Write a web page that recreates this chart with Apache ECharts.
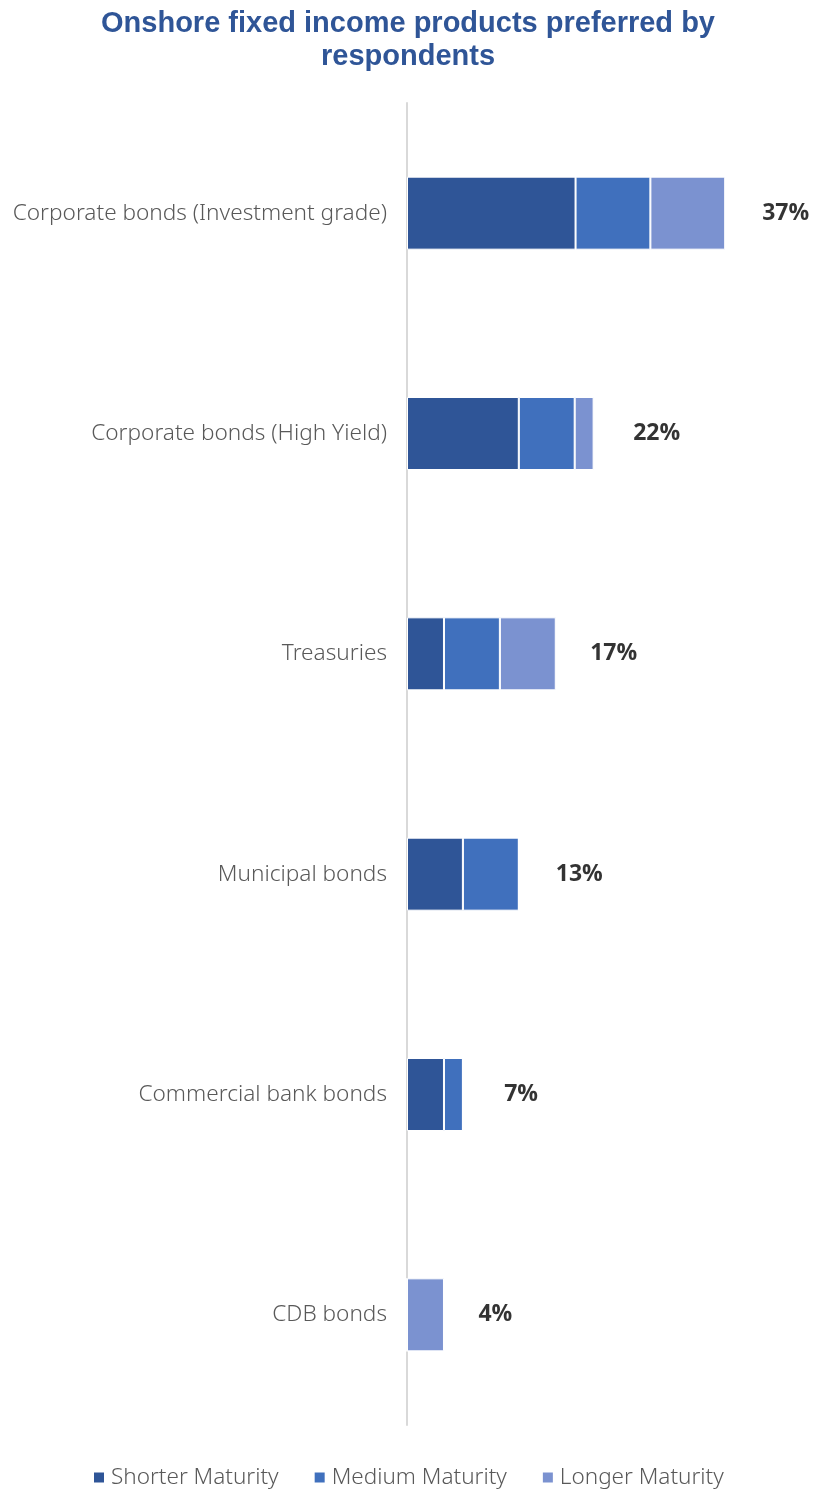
<!DOCTYPE html>
<html>
<head>
<meta charset="utf-8">
<title>Onshore fixed income products preferred by respondents</title>
<script src="https://cdn.jsdelivr.net/npm/echarts@6/dist/echarts.min.js"></script>
<style>
  html, body { margin: 0; padding: 0; background: #ffffff; }
  #chart { width: 821px; height: 1490px; }
</style>
</head>
<body>
<div id="chart"></div>
<script>
// Product categories, top to bottom
const categories = [
  'Corporate bonds (Investment grade)',
  'Corporate bonds (High Yield)',
  'Treasuries',
  'Municipal bonds',
  'Commercial bank bonds',
  'CDB bonds'
];

// Share of respondents (%) by preferred maturity
const shorterMaturity = [19.6, 13.0, 4.3, 6.5, 4.3, 0];
const mediumMaturity  = [8.7, 6.5, 6.5, 6.5, 2.2, 0];
const longerMaturity  = [8.7, 2.2, 6.5, 0, 0, 4.3];

// Total share per product (%), shown at the end of each bar
const totals = [37, 22, 17, 13, 7, 4];

const seriesNames = ['Shorter Maturity', 'Medium Maturity', 'Longer Maturity'];
const colors = ['#2F5597', '#4070BD', '#7B92D0'];

const chart = echarts.init(document.getElementById('chart'));

function stackSeries(name, data, color) {
  return {
    name: name,
    type: 'bar',
    stack: 'total',
    barWidth: 73,
    data: data,
    itemStyle: { color: color, borderColor: '#ffffff', borderWidth: 1 },
    emphasis: { disabled: true }
  };
}

chart.setOption({
  animation: false,
  backgroundColor: '#ffffff',
  color: colors,
  title: {
    text: 'Onshore fixed income products preferred by\nrespondents',
    left: 403,
    textAlign: 'center',
    top: 2,
    textStyle: {
      color: '#2F5597',
      fontFamily: 'Liberation Sans, Arial, sans-serif',
      fontWeight: 'bold',
      fontSize: 29,
      lineHeight: 33
    }
  },
  legend: {
    data: seriesNames,
    top: 1461,
    left: 87,
    icon: 'rect',
    itemWidth: 12,
    itemHeight: 12,
    itemGap: 34,
    textStyle: {
      color: '#595959',
      fontFamily: 'Noto Sans, sans-serif',
      fontWeight: 300,
      fontSize: 22.5,
      padding: [0, 0, 0, 1]
    }
  },
  grid: {
    left: 407,
    right: 70,
    top: 103,
    bottom: 65
  },
  xAxis: {
    type: 'value',
    min: 0,
    max: 40,
    show: false
  },
  yAxis: {
    type: 'category',
    data: categories,
    inverse: true,
    axisLine: { show: true, lineStyle: { color: '#D9D9D9', width: 2 } },
    axisTick: { show: false },
    axisLabel: {
      margin: 20,
      color: '#595959',
      fontFamily: 'Noto Sans, sans-serif',
      fontWeight: 300,
      fontSize: 22.6,
      padding: [7, 0, 0, 0]
    }
  },
  series: [
    stackSeries(seriesNames[0], shorterMaturity, colors[0]),
    stackSeries(seriesNames[1], mediumMaturity, colors[1]),
    stackSeries(seriesNames[2], longerMaturity, colors[2]),
    {
      name: 'Total',
      type: 'scatter',
      symbolSize: 0,
      silent: true,
      data: totals.map((t, i) => [t, categories[i]]),
      label: {
        show: true,
        position: 'right',
        distance: 37,
        formatter: p => totals[p.dataIndex] + '%',
        color: '#000000',
        fontFamily: 'Open Sans, sans-serif',
        fontWeight: 'bold',
        fontSize: 23
      }
    }
  ]
});
</script>
</body>
</html>
